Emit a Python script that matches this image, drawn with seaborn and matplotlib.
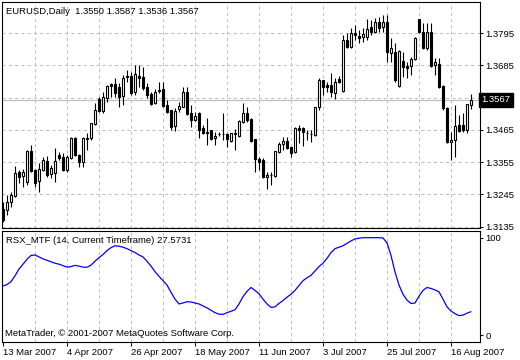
import numpy as np
import pandas as pd
import matplotlib
matplotlib.use("Agg")
import matplotlib.pyplot as plt
import matplotlib.transforms as mtransforms
import seaborn as sns

# ---------------- data ----------------
opens = [1.3195, 1.3192, 1.3219, 1.3239, 1.3321, 1.3307, 1.3287, 1.3393, 1.3328, 1.3290,
         1.3328, 1.3359, 1.3314, 1.3318, 1.3379, 1.3372, 1.3328, 1.3369, 1.3437, 1.3379,
         1.3355, 1.3437, 1.3437, 1.3485, 1.3570, 1.3529, 1.3573, 1.3621, 1.3621, 1.3611,
         1.3580, 1.3648, 1.3648, 1.3594, 1.3648, 1.3645, 1.3611, 1.3587, 1.3556, 1.3601,
         1.3604, 1.3550, 1.3533, 1.3478, 1.3536, 1.3543, 1.3594, 1.3522, 1.3498, 1.3522,
         1.3471, 1.3457, 1.3464, 1.3437, 1.3451, 1.3451, 1.3451, 1.3427, 1.3454, 1.3444,
         1.3492, 1.3522, 1.3502, 1.3434, 1.3365, 1.3362, 1.3304, 1.3311, 1.3307, 1.3389,
         1.3417, 1.3427, 1.3406, 1.3389, 1.3471, 1.3471, 1.3454, 1.3451, 1.3447, 1.3543,
         1.3635, 1.3618, 1.3618, 1.3590, 1.3638, 1.3597, 1.3771, 1.3747, 1.3795, 1.3785,
         1.3781, 1.3781, 1.3816, 1.3798, 1.3833, 1.3816, 1.3833, 1.3727, 1.3730, 1.3614,
         1.3700, 1.3683, 1.3683, 1.3706, 1.3843, 1.3798, 1.3744, 1.3798, 1.3686, 1.3689,
         1.3614, 1.3539, 1.3423, 1.3430, 1.3481, 1.3481, 1.3464, 1.3550]
highs = [1.3219, 1.3243, 1.3253, 1.3342, 1.3328, 1.3331, 1.3396, 1.3413, 1.3331, 1.3352,
         1.3372, 1.3376, 1.3345, 1.3403, 1.3389, 1.3386, 1.3379, 1.3440, 1.3440, 1.3381,
         1.3439, 1.3454, 1.3489, 1.3556, 1.3577, 1.3594, 1.3618, 1.3625, 1.3642, 1.3625,
         1.3652, 1.3669, 1.3662, 1.3686, 1.3686, 1.3679, 1.3625, 1.3594, 1.3604, 1.3628,
         1.3628, 1.3567, 1.3534, 1.3539, 1.3560, 1.3611, 1.3611, 1.3550, 1.3526, 1.3526,
         1.3481, 1.3505, 1.3465, 1.3457, 1.3457, 1.3522, 1.3454, 1.3455, 1.3468, 1.3498,
         1.3556, 1.3543, 1.3505, 1.3435, 1.3372, 1.3369, 1.3321, 1.3321, 1.3394, 1.3423,
         1.3440, 1.3440, 1.3407, 1.3475, 1.3481, 1.3475, 1.3464, 1.3464, 1.3544, 1.3642,
         1.3636, 1.3628, 1.3659, 1.3642, 1.3648, 1.3788, 1.3795, 1.3812, 1.3822, 1.3805,
         1.3812, 1.3843, 1.3839, 1.3846, 1.3850, 1.3856, 1.3856, 1.3778, 1.3761, 1.3737,
         1.3730, 1.3696, 1.3713, 1.3781, 1.3844, 1.3829, 1.3829, 1.3829, 1.3710, 1.3710,
         1.3618, 1.3543, 1.3457, 1.3550, 1.3516, 1.3522, 1.3554, 1.3587]
lows = [1.3151, 1.3174, 1.3202, 1.3236, 1.3284, 1.3270, 1.3277, 1.3321, 1.3270, 1.3253,
        1.3324, 1.3304, 1.3301, 1.3287, 1.3362, 1.3324, 1.3321, 1.3365, 1.3376, 1.3338,
        1.3338, 1.3396, 1.3430, 1.3481, 1.3526, 1.3522, 1.3560, 1.3577, 1.3577, 1.3543,
        1.3550, 1.3628, 1.3584, 1.3584, 1.3611, 1.3601, 1.3573, 1.3550, 1.3553, 1.3590,
        1.3543, 1.3522, 1.3464, 1.3461, 1.3526, 1.3542, 1.3515, 1.3475, 1.3495, 1.3437,
        1.3451, 1.3413, 1.3430, 1.3413, 1.3444, 1.3430, 1.3406, 1.3423, 1.3396, 1.3440,
        1.3488, 1.3492, 1.3423, 1.3321, 1.3328, 1.3301, 1.3263, 1.3277, 1.3304, 1.3386,
        1.3396, 1.3400, 1.3372, 1.3386, 1.3420, 1.3410, 1.3430, 1.3423, 1.3444, 1.3533,
        1.3584, 1.3594, 1.3577, 1.3570, 1.3625, 1.3594, 1.3744, 1.3744, 1.3771, 1.3761,
        1.3764, 1.3771, 1.3788, 1.3795, 1.3798, 1.3798, 1.3696, 1.3696, 1.3628, 1.3611,
        1.3645, 1.3642, 1.3652, 1.3703, 1.3795, 1.3741, 1.3737, 1.3679, 1.3652, 1.3608,
        1.3533, 1.3420, 1.3362, 1.3372, 1.3457, 1.3457, 1.3454, 1.3536]
closes = [1.3157, 1.3219, 1.3243, 1.3318, 1.3304, 1.3321, 1.3393, 1.3324, 1.3284, 1.3331,
          1.3362, 1.3311, 1.3335, 1.3359, 1.3369, 1.3328, 1.3372, 1.3437, 1.3379, 1.3355,
          1.3437, 1.3434, 1.3488, 1.3533, 1.3529, 1.3577, 1.3614, 1.3614, 1.3590, 1.3577,
          1.3642, 1.3645, 1.3590, 1.3655, 1.3642, 1.3608, 1.3584, 1.3553, 1.3594, 1.3597,
          1.3546, 1.3526, 1.3475, 1.3529, 1.3546, 1.3594, 1.3519, 1.3498, 1.3512, 1.3464,
          1.3454, 1.3454, 1.3434, 1.3444, 1.3450, 1.3452, 1.3434, 1.3454, 1.3450, 1.3495,
          1.3522, 1.3498, 1.3427, 1.3365, 1.3355, 1.3304, 1.3311, 1.3310, 1.3393, 1.3417,
          1.3427, 1.3403, 1.3386, 1.3471, 1.3464, 1.3457, 1.3453, 1.3450, 1.3543, 1.3635,
          1.3611, 1.3611, 1.3594, 1.3628, 1.3628, 1.3771, 1.3747, 1.3795, 1.3788, 1.3778,
          1.3792, 1.3809, 1.3798, 1.3833, 1.3812, 1.3833, 1.3730, 1.3744, 1.3635, 1.3734,
          1.3679, 1.3676, 1.3706, 1.3778, 1.3798, 1.3744, 1.3798, 1.3683, 1.3696, 1.3611,
          1.3539, 1.3423, 1.3430, 1.3478, 1.3461, 1.3464, 1.3553, 1.3567]
rsx = [50.5, 52, 55, 61, 68, 73, 78, 82, 82.5, 80.5,
       78.5, 77, 75.5, 74, 73, 71.5, 70, 70.5, 71.8, 71,
       70, 69.8, 72, 76, 79.7, 83, 87, 90, 92, 91.5,
       90.5, 89, 87, 85, 82.5, 80.5, 76, 71, 65.3, 60.5,
       56, 51.5, 44, 37, 32, 33, 34.3, 34, 33, 32,
       30, 28, 25.5, 23, 21.5, 21.3, 23, 24.5, 26, 32,
       39.5, 45, 49, 46, 42.5, 37, 32, 28.5, 29, 32.5,
       35.5, 39, 42, 46, 51, 56, 59, 61.5, 66, 70.5,
       74, 79, 85, 89, 90.5, 92, 94.5, 97, 99, 99.8,
       100.3, 100.3, 100.3, 100.3, 100.3, 100, 95, 82, 65, 51.5,
       42, 36, 32.5, 33, 40, 46, 49, 48, 46.5, 44.5,
       37, 29, 24.7, 22, 20, 20.5, 22.5, 24]

date_labels = ["13 Mar 2007", "4 Apr 2007", "26 Apr 2007", "18 May 2007",
               "11 Jun 2007", "3 Jul 2007", "25 Jul 2007", "16 Aug 2007"]
price_ticks = [1.3135, 1.3245, 1.3355, 1.3465, 1.3575, 1.3685, 1.3795]
price_labels = ["1.3135", "1.3245", "1.3355", "1.3465", "", "1.3685", "1.3795"]
rsx_ticks = [0, 100]
title_main = "EURUSD,Daily  1.3550 1.3587 1.3536 1.3567"
title_ind = "RSX_MTF (14, Current Timeframe) 27.5731"
copyright_text = "MetaTrader, \u00a9 2001-2007 MetaQuotes Software Corp."
last_price = 1.3567

# ---------------- style ----------------
sns.set_style("white")
plt.rcParams['font.family'] = ['Liberation Sans', 'DejaVu Sans']
FS = 6.8

df = pd.DataFrame({"bar": np.arange(len(opens)), "open": opens, "high": highs,
                   "low": lows, "close": closes, "rsx": rsx})
df["date"] = pd.bdate_range("2007-03-13", periods=len(df))

W, H = 520, 360
fig = plt.figure(figsize=(W / 100, H / 100), dpi=100)
fig.patch.set_facecolor("white")
ax = fig.add_axes([2 / W, 1 - 228 / H, 478 / W, 226 / H])
ax2 = fig.add_axes([2 / W, 1 - 342 / H, 478 / W, 111 / H])

xlim = (-0.25, 119.25)
grid_kw = dict(color="#c0c0c0", lw=0.75, ls=(0, (3, 3)), zorder=0)

# ---------------- main candle panel ----------------
for xg in range(8, len(df), 8):
    ax.axvline(xg, **grid_kw)
for yg in price_ticks:
    ax.axhline(yg, **grid_kw)
ax.axhline(last_price, color="#c0c0c0", lw=0.9, zorder=1)

ax.vlines(df["bar"], df["low"], df["high"], color="black", lw=0.8, zorder=2)
bull = df["close"] >= df["open"]
bottoms = np.minimum(df["open"], df["close"])
heights = np.abs(df["close"] - df["open"])
ax.bar(df["bar"][bull], heights[bull], bottom=bottoms[bull], width=0.55,
       facecolor="white", edgecolor="black", linewidth=0.8, zorder=3)
ax.bar(df["bar"][~bull], heights[~bull], bottom=bottoms[~bull], width=0.55,
       facecolor="black", edgecolor="black", linewidth=0.8, zorder=3)

ax.set_xlim(*xlim)
ax.set_ylim(1.31301, 1.39008)
ax.set_xticks([])
ax.yaxis.tick_right()
ax.set_yticks(price_ticks)
ax.set_yticklabels(price_labels)
ax.tick_params(axis="y", right=True, direction="out", length=2.5, width=0.7,
               labelsize=FS, pad=1.5, colors="black")
ax.set_xlabel("")
ax.set_ylabel("")

tr = mtransforms.blended_transform_factory(ax.transAxes, ax.transData)
ax.text(1.003, last_price, "1.3567", transform=tr, ha="left", va="center",
        color="white", fontsize=FS, zorder=10, clip_on=False,
        bbox=dict(boxstyle="square,pad=0.25", fc="black", ec="black"))
ax.text(4 / 478, 1 - 9 / 226, title_main, transform=ax.transAxes,
        ha="left", va="center", fontsize=FS, color="black")

# ---------------- indicator panel ----------------
for xg in range(8, len(df), 8):
    ax2.axvline(xg, **grid_kw)
sns.lineplot(data=df, x="bar", y="rsx", ax=ax2, color="#0000ff", lw=0.9, zorder=3)
ax2.set_xlim(*xlim)
ax2.set_ylim(-7.2, 107.2)
ax2.yaxis.tick_right()
ax2.set_yticks(rsx_ticks)
ax2.set_yticklabels([str(t) for t in rsx_ticks])
ax2.tick_params(axis="y", right=True, direction="out", length=2.5, width=0.7,
                labelsize=FS, pad=1.5, colors="black")
ax2.set_xticks(np.arange(0, len(df), 16))
ax2.set_xticklabels(date_labels)
for lab in ax2.get_xticklabels():
    lab.set_horizontalalignment("left")
ax2.tick_params(axis="x", bottom=True, direction="out", length=3, width=0.7,
                labelsize=FS, pad=1.5, colors="black")
ax2.set_xlabel("")
ax2.set_ylabel("")
ax2.text(4 / 478, 1 - 9.7 / 111, title_ind, transform=ax2.transAxes,
         ha="left", va="center", fontsize=FS, color="black")
ax2.text(3 / 478, 1 - 103 / 111, copyright_text, transform=ax2.transAxes,
         ha="left", va="center", fontsize=FS, color="black")

for a in (ax, ax2):
    for s in a.spines.values():
        s.set_visible(True)
        s.set_color("black")
        s.set_linewidth(0.8)

fig.savefig("out.png", dpi=100)
